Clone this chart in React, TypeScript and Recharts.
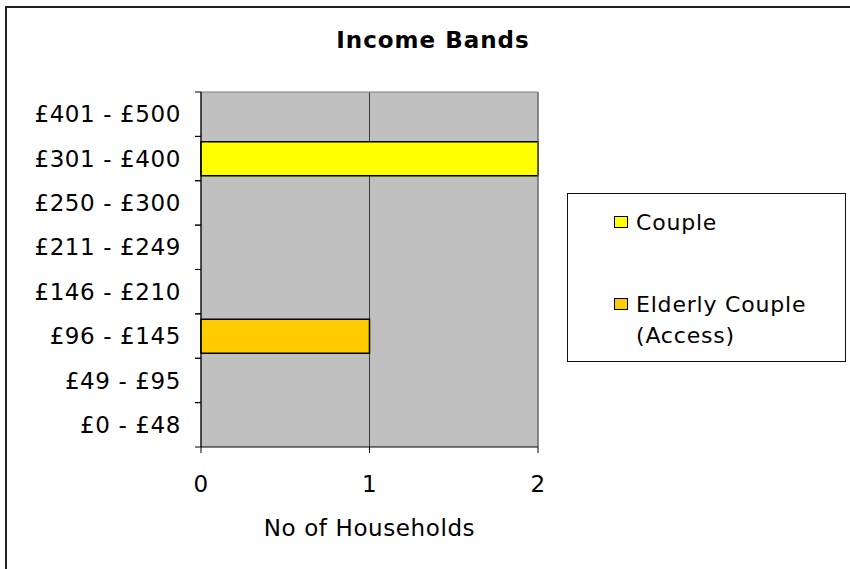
import { BarChart, Bar, XAxis, YAxis, CartesianGrid, Legend, Label } from 'recharts'

const FONT = '"DejaVu Sans", Verdana, sans-serif'

// bottom-to-top, as the bands are listed in the source sheet
const incomeBands = [
  '£0 - £48',
  '£49 - £95',
  '£96 - £145',
  '£146 - £210',
  '£211 - £249',
  '£250 - £300',
  '£301 - £400',
  '£401 - £500',
]
const coupleCounts = [0, 0, 0, 0, 0, 0, 2, 0]
const elderlyCoupleCounts = [0, 0, 1, 0, 0, 0, 0, 0]
const householdTicks = [0, 1, 2]

const chartData = incomeBands.map((band, i) => ({
  band,
  couple: coupleCounts[i],
  elderly: elderlyCoupleCounts[i],
}))

const textStyle = { fill: '#000', fontSize: 23, fontFamily: FONT, letterSpacing: 0.6 }
const TICK_MARGIN = 20

// band label plus tick marks on the band edges (Excel style)
const BandTick = ({ x, y, payload }: any) => {
  const half = payload.offset || 0
  const axisX = x + TICK_MARGIN
  return (
    <g>
      <line x1={axisX - 6} x2={axisX} y1={y - half} y2={y - half} stroke="#000" />
      <line x1={axisX - 6} x2={axisX} y1={y + half} y2={y + half} stroke="#000" />
      <text x={x} y={y} dy="0.355em" textAnchor="end" {...textStyle}>
        {payload.value}
      </text>
    </g>
  )
}

const LegendBox = ({ payload }: any) => {
  const rowTops = [13, 95]
  return (
    <div
      style={{
        position: 'relative',
        width: 279,
        height: 169,
        boxSizing: 'border-box',
        border: '1px solid #111',
        background: '#fff',
        fontFamily: FONT,
        fontSize: 22,
        letterSpacing: 0.8,
        color: '#000',
        textAlign: 'left',
      }}
    >
      {(payload || []).map((entry: any, i: number) => (
        <div key={entry.value}>
          <span
            style={{
              position: 'absolute',
              left: 46,
              top: rowTops[i] + 9,
              width: 14,
              height: 12,
              boxSizing: 'border-box',
              border: '1px solid #000',
              background: entry.color,
            }}
          />
          <span
            style={{
              position: 'absolute',
              left: 68,
              top: rowTops[i],
              width: 190,
              lineHeight: '31px',
            }}
          >
            {entry.value}
          </span>
        </div>
      ))}
    </div>
  )
}

export default function App() {
  return (
    <div style={{ position: 'relative', width: 850, height: 569, background: '#fff', overflow: 'hidden' }}>
      <style>{'body{margin:0}'}</style>
      {/* chart frame, cut off on the right and bottom */}
      <div
        style={{
          position: 'absolute',
          left: 5,
          top: 6,
          width: 900,
          height: 600,
          borderLeft: '2px solid #222',
          borderTop: '2px solid #222',
        }}
      />
      <div
        style={{
          position: 'absolute',
          left: 333,
          top: 27,
          width: 200,
          textAlign: 'center',
          fontFamily: FONT,
          fontWeight: 'bold',
          fontSize: 23,
          letterSpacing: 1,
          lineHeight: '27px',
          color: '#000',
        }}
      >
        Income Bands
      </div>
      <div style={{ position: 'absolute', left: 0, top: 0 }}>
        <BarChart
          width={850}
          height={569}
          data={chartData}
          layout="vertical"
          margin={{ top: 91, right: 311, bottom: 22, left: 11 }}
          barCategoryGap="12%"
        >
          <CartesianGrid horizontal={false} stroke="#3a3a3a" fill="#c0c0c0" />
          <XAxis
            type="number"
            domain={[0, 2]}
            ticks={householdTicks}
            interval={0}
            tickSize={6}
            tickMargin={23}
            height={100}
            axisLine={{ stroke: '#000' }}
            tickLine={{ stroke: '#000' }}
            tick={textStyle}
          >
            <Label
              value="No of Households"
              position="insideBottom"
              offset={11}
              style={textStyle}
            />
          </XAxis>
          <XAxis
            xAxisId="top"
            orientation="top"
            type="number"
            domain={[0, 2]}
            height={1}
            tick={false}
            tickLine={false}
            axisLine={{ stroke: '#808080' }}
          />
          <YAxis
            type="category"
            dataKey="band"
            reversed
            width={190}
            interval={0}
            tickSize={0}
            tickMargin={TICK_MARGIN}
            axisLine={{ stroke: '#000' }}
            tickLine={false}
            tick={<BandTick />}
          />
          <YAxis
            yAxisId="right"
            orientation="right"
            type="number"
            domain={[0, incomeBands.length]}
            width={1}
            tick={false}
            tickLine={false}
            axisLine={{ stroke: '#808080' }}
          />
          <Bar
            dataKey="couple"
            name="Couple"
            stackId="households"
            fill="#ffff00"
            stroke="#000"
            strokeWidth={1.5}
            isAnimationActive={false}
          />
          <Bar
            dataKey="elderly"
            name="Elderly Couple (Access)"
            stackId="households"
            fill="#ffcc00"
            stroke="#000"
            strokeWidth={1.5}
            isAnimationActive={false}
          />
          <Legend
            layout="vertical"
            align="center"
            verticalAlign="middle"
            content={<LegendBox />}
            wrapperStyle={{ left: 567, top: 193, width: 279, height: 169 }}
          />
        </BarChart>
      </div>
    </div>
  )
}
